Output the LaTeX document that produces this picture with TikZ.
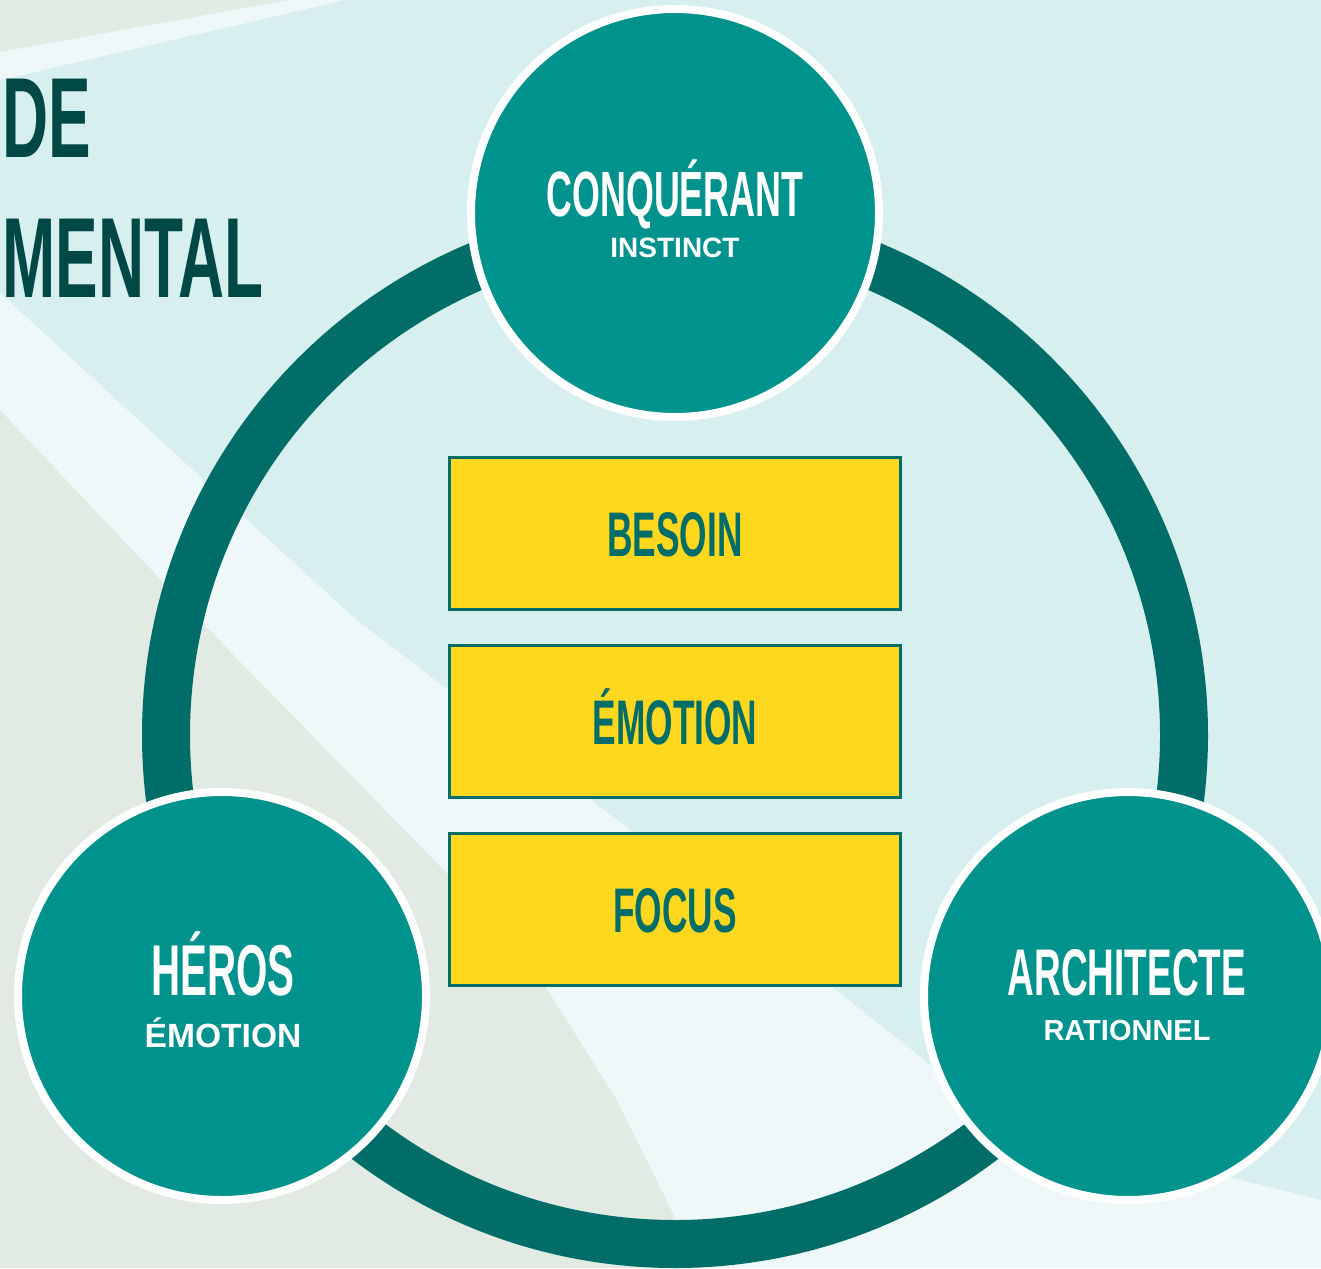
\documentclass[tikz,border=0pt]{standalone}
\usepackage{fontspec}
\setmainfont{Liberation Sans}
\newfontfamily\condfont[FakeStretch=0.56]{Liberation Sans Bold}
\usetikzlibrary{positioning}

\definecolor{bgcyan}{HTML}{D8EFF0}
\definecolor{bggray}{HTML}{E2EAE4}
\definecolor{ringteal}{HTML}{006D68}
\definecolor{discteal}{HTML}{00928D}
\definecolor{boxyellow}{HTML}{FED81F}
\definecolor{boxteal}{HTML}{006D68}
\definecolor{titleteal}{HTML}{004846}

\begin{document}
\begin{tikzpicture}[x=0.5pt,y=-0.5pt]
    \tikzset{
        disc/.style = {circle, draw=white, fill=discteal, line width=4pt, minimum size=204pt, inner sep=0pt},
        box/.style = {rectangle, draw=boxteal, fill=boxyellow, line width=1.5pt, minimum width=225.5pt, minimum height=76pt, inner sep=0pt, text=boxteal, text height=22.5pt, text depth=0pt, font=\condfont\fontsize{31.5}{31.5}\selectfont},
        ring/.style = {draw=ringteal, line width=24pt},
        disctitle/.style = {text=white, inner sep=0pt, anchor=base},
        discsub/.style = {text=white, inner sep=0pt, anchor=base, font=\bfseries\fontsize{14}{14}\selectfont},
        heading/.style = {text=titleteal, inner sep=0pt, anchor=base west, font=\condfont\fontsize{57}{57}\selectfont},
        band/.style = {fill=white, opacity=0.6},
    }

    \useasboundingbox (0,0) rectangle (1321,1268);

    % court background
    \fill[bgcyan] (0,0) rectangle (1321,1268);
    \fill[bggray] (0,0) -- (290,0) -- (0,52) -- cycle;
    \fill[band] (0,52) -- (290,0) -- (345,0) -- (0,80) -- cycle;
    \fill[bggray] (0,410) -- (180,600) -- (523,951) -- (617,1100) -- (700,1268) -- (0,1268) -- cycle;
    \fill[band] (0,293) -- (353,617) -- (760,930) -- (1000,1120) -- (1321,1200) -- (1321,1268) -- (700,1268) -- (617,1100) -- (523,951) -- (180,600) -- (0,410) -- cycle;

    \node[heading](headA) at (2,157){DE};
    \node[heading](headB) at (2,297){MENTAL};

    \draw[ring] (675,735) circle[radius=509];

    \node[disc](conq) at (675,213){};
    \node[disc](heros) at (222,996){};
    \node[disc](archi) at (1128,996){};

    \node[disctitle, font=\condfont\fontsize{32}{32}\selectfont](conqname) at (675,216){CONQUÉRANT};
    \node[discsub](conqsub) at (675,257){INSTINCT};

    \node[disctitle, font=\condfont\fontsize{36}{36}\selectfont](herosname) at (223,995){HÉROS};
    \node[discsub, font=\bfseries\fontsize{16.8}{16.8}\selectfont](herossub) at (223,1047){ÉMOTION};

    \node[disctitle, font=\condfont\fontsize{33}{33}\selectfont](archiname) at (1127,995){ARCHITECTE};
    \node[discsub, font=\bfseries\fontsize{14.5}{14.5}\selectfont](archisub) at (1127,1040){RATIONNEL};

    \node[box](besoin) at (675,533.5){BESOIN};
    \node[box](emotion)[below = 16.5pt of besoin]{ÉMOTION};
    \node[box](focus)[below = 16.5pt of emotion]{FOCUS};

\end{tikzpicture}
\end{document}
